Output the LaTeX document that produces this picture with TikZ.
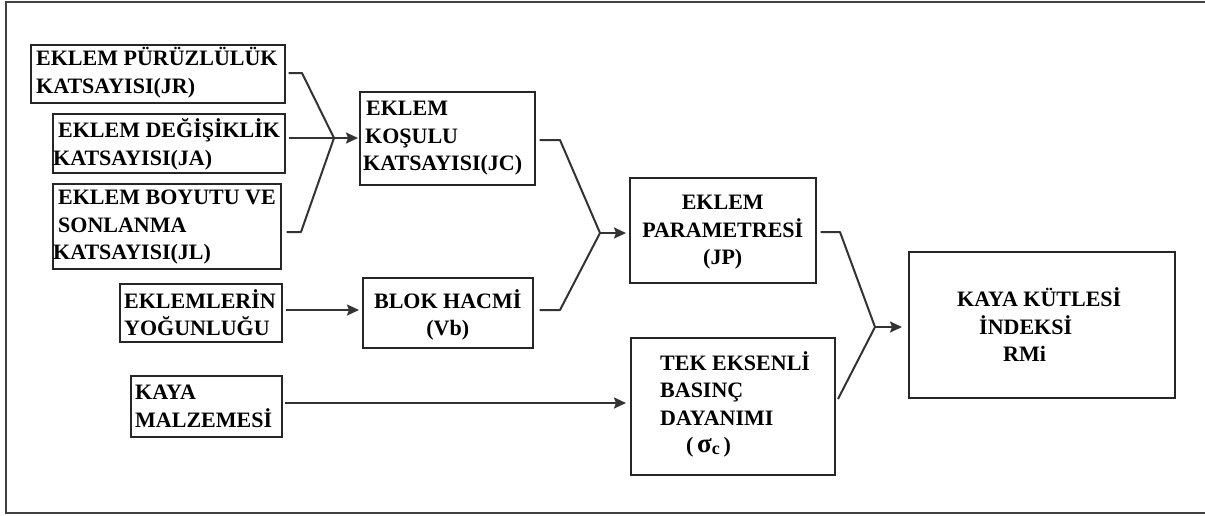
\documentclass[tikz,border=0pt]{standalone}
\usepackage{fontspec}
\setmainfont{Liberation Serif}
\usetikzlibrary{arrows.meta}
\tikzset{
  box/.style={draw=black!85, line width=1.5pt, anchor=north west, inner sep=0pt},
  txt/.style={inner sep=0pt, font=\bfseries\fontsize{22}{27.5}\selectfont, text=black},
  conn/.style={draw=black!80, line width=2pt, line join=round},
  arr/.style={conn, -{Stealth[length=12pt,width=11pt,inset=2pt]}},
  frame/.style={draw=black!75, line width=2.2pt}
}
% name, x0, y0, x1, y1
\newcommand{\bx}[5]{%
  \pgfmathsetmacro{\bw}{#4-#2}\pgfmathsetmacro{\bh}{#5-#3}%
  \node[box, minimum width=\bw pt, minimum height=\bh pt] (#1) at (#2,#3) {};}
\begin{document}
\begin{tikzpicture}[x=1pt,y=-1pt]
\useasboundingbox (0,0) rectangle (1205,515);
\draw[frame] (1212,2) -- (6,2) -- (6,513) -- (1212,513);

\bx{jr}{30}{44}{284}{102}
\bx{ja}{52}{113}{284}{172}
\bx{jl}{52}{183}{280}{268}
\bx{ekl}{119}{283}{281}{341}
\bx{kaya}{130}{375}{281}{436}
\bx{jc}{359}{91}{534}{184}
\bx{blok}{362}{277}{532}{347}
\bx{jp}{629}{177}{815}{282}
\bx{tek}{630}{337}{834}{474}
\bx{rmi}{908}{251}{1174}{397}

\node[txt, anchor=west, align=left] (jr-t) at ([xshift=6pt,yshift=1pt]jr.west) {EKLEM PÜRÜZLÜLÜK\\KATSAYISI(JR)};
\node[txt, anchor=west, align=left] (ja-t) at ([xshift=1pt,yshift=-1pt]ja.west) {\hspace*{5pt}EKLEM DEĞİŞİKLİK\\KATSAYISI(JA)};
\node[txt, anchor=west, align=left] (jl-t) at ([xshift=1pt,yshift=-1pt]jl.west) {\hspace*{5pt}EKLEM BOYUTU VE\\\hspace*{5pt}SONLANMA\\KATSAYISI(JL)};
\node[txt, anchor=west, align=left] (ekl-t) at ([xshift=5pt]ekl.west) {EKLEMLERİN\\YOĞUNLUĞU};
\node[txt, anchor=west, align=left] (kaya-t) at ([xshift=5pt]kaya.west) {KAYA\\MALZEMESİ};
\node[txt, anchor=west, align=left] (jc-t) at ([xshift=4pt]jc.west) {\hspace*{3pt}EKLEM\\\hspace*{2pt}KOŞULU\\KATSAYISI(JC)};
\node[txt, align=center] (blok-t) at ([yshift=-2pt]blok.center) {BLOK HACMİ\\(Vb)};
\node[txt, align=center] (jp-t) at ([yshift=-2pt]jp.center) {EKLEM\\PARAMETRESİ\\(JP)};
\node[txt, anchor=west, align=left] (tek-t) at ([xshift=30pt,yshift=2pt]tek.west) {TEK EKSENLİ\\BASINÇ\\DAYANIMI\\\hspace*{26pt}(\,{\fontsize{27}{27}\selectfont σ}\raisebox{-2pt}{\fontsize{18}{18}\selectfont c}\,)};
\node[txt, anchor=west, align=left] (rmi-t) at ([xshift=49pt]rmi.west) {KAYA KÜTLESİ\\\hspace*{22pt}İNDEKSİ\\\hspace*{46pt}RMi};

% group 1
\coordinate (m1) at (334,138);
\coordinate (a1) at (302,73);
\coordinate (a3) at (301,232);
\draw[conn] ([xshift=3pt]jr.east |- a1) -- (a1) -- (m1);
\draw[conn] ([xshift=3pt]ja.east |- m1) -- (m1);
\draw[conn] ([xshift=5pt]jl.east |- a3) -- (a3) -- (m1);
\draw[arr] (m1) -- ([xshift=-1pt]jc.west |- m1);

% group 2
\coordinate (m2) at (600,233);
\coordinate (b1) at (560,140);
\coordinate (b2) at (560,310);
\draw[conn] ([xshift=4pt]jc.east |- b1) -- (b1) -- (m2);
\draw[conn] ([xshift=6pt]blok.east |- b2) -- (b2) -- (m2);
\draw[arr] (m2) -- ([xshift=-3pt]jp.west |- m2);

% group 3
\coordinate (m3) at (875,327);
\coordinate (c1) at (840,232);
\coordinate (c2) at (838,399);
\draw[conn] ([xshift=4pt]jp.east |- c1) -- (c1) -- (m3);
\draw[conn] (c2) -- (m3);
\draw[arr] (m3) -- ([xshift=-6pt]rmi.west |- m3);

% straight arrows
\coordinate (e1) at (286,310);
\draw[arr] (e1) -- ([xshift=-3pt]blok.west |- e1);
\coordinate (k1) at (285,403);
\draw[arr] (k1) -- ([xshift=-4pt]tek.west |- k1);
\end{tikzpicture}
\end{document}
